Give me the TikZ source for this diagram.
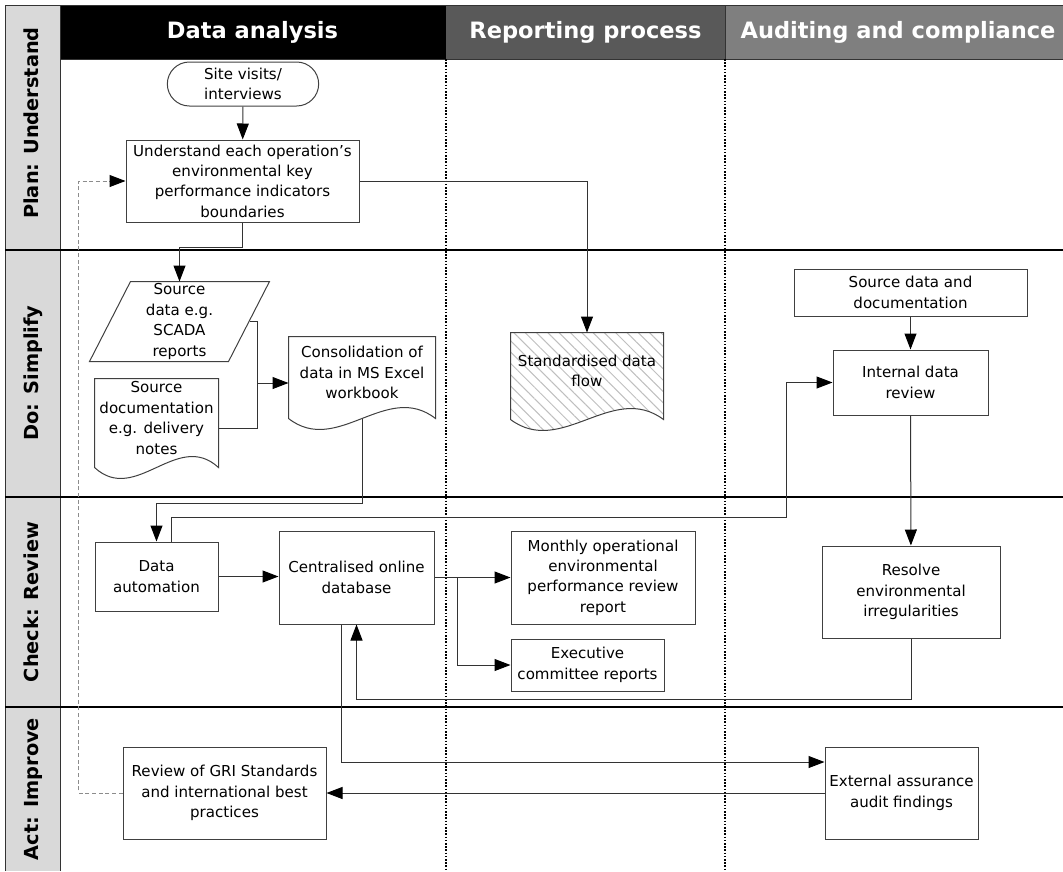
\documentclass[tikz,border=0pt]{standalone}
\usepackage{fontspec}
\setmainfont{DejaVu Sans}
\usepackage{tikz}
\usepackage{xcolor}
\usetikzlibrary{calc,arrows.meta,shapes.misc,patterns.meta,backgrounds}

\definecolor{lanegray}{HTML}{D9D9D9}
\definecolor{headdark}{HTML}{595959}
\definecolor{headmid}{HTML}{7F7F7F}
\definecolor{edgegray}{HTML}{404040}

% document symbol: straight top and sides, wavy bottom
\newcommand{\docoutline}[2][]{%
  \draw[edgegray,line width=0.75pt,#1] (#2.north west) -- (#2.north east)
    -- ($(#2.south east)+(0,10)$)
    .. controls ($(#2.south east)!1/3!(#2.south west)+(0,-28)$)
    and ($(#2.south east)!2/3!(#2.south west)+(0,48)$) .. ($(#2.south west)+(0,10)$)
    -- cycle;}
% data symbol (parallelogram)
\newcommand{\dataoutline}[1]{%
  \draw[edgegray,line width=0.75pt] ($(#1.north west)+(41,0)$) -- (#1.north east)
    -- ($(#1.south east)+(-41,0)$) -- (#1.south west) -- cycle;}

\begin{document}
\begin{tikzpicture}[x=0.75pt,y=-0.75pt,line width=0.75pt,
boxsize/.style 2 args = {minimum width=#1*0.75pt, minimum height=#2*0.75pt},
box/.style = {draw=edgegray, align=center, inner sep=1pt, font=\fontsize{11.3}{15.3}\selectfont},
doc node/.style = {align=center, inner sep=0pt, font=\fontsize{11.3}{15.3}\selectfont},
term node/.style = {box, rounded rectangle},
lane label/.style = {rotate=90, anchor=base, font=\bfseries\fontsize{14.5}{17}\selectfont},
head label/.style = {anchor=base, text=white, font=\bfseries\fontsize{16.9}{20}\selectfont},
flow/.style = {draw=black!80, -{Triangle[length=12pt,width=9pt,color=black]}},
link/.style = {draw=black!80},
feedback/.style = {flow, draw=black!45, dash pattern=on 3pt off 2pt},
lane sep/.style = {draw=black, line width=0.9pt, dash pattern=on 1.2pt off 1.2pt}]
\useasboundingbox (0,0) rectangle (1063,871);

% swimlane frame
\fill[lanegray] (5,5) rectangle (60,871);
\fill[black] (60,5) rectangle (446,59);
\fill[headdark] (446,5) rectangle (725,59);
\fill[headmid] (725,5) rectangle (1063,59);
\draw[black!80] (5,871) -- (5,5) -- (1063,5);
\draw[black!80] (60,5) -- (60,871);
\draw[black!80] (60,59) -- (1063,59);
\draw[black!80] (725,5) -- (725,59);
\foreach \y in {250,497,707}
  \draw[line width=1.5pt] (5,\y) -- (1063,\y);
\foreach \x in {446,725}
  \draw[lane sep] (\x,59) -- (\x,871);

\node[head label] (hdata) at (252.5,38) {Data analysis};
\node[head label] (hrep) at (585.5,38) {Reporting process};
\node[head label] (haud) at (898,38) {Auditing and compliance};
\node[lane label] (lplan) at (38,123) {Plan: Understand};
\node[lane label] (ldo) at (38,373) {Do: Simplify};
\node[lane label] (lcheck) at (38,602) {Check: Review};
\node[lane label] (lact) at (38,789) {Act: Improve};

% steps
\node[term node, boxsize={154}{44}] (site) at (243,84) {Site visits/\\interviews};
\node[box, boxsize={233}{82}] (und) at (242.5,181) {Understand each operation’s\\environmental key\\performance indicators\\boundaries};
\node[doc node, boxsize={179}{79}] (scada) at (179.5,321.5) {Source\\data e.g.\\SCADA\\reports};
\node[doc node, boxsize={123}{78}] (srcdoc) at (156.5,418) {Source\\documentation\\e.g. delivery\\notes};
\node[doc node, boxsize={146}{71}] (cons) at (362,372.5) {Consolidation of\\data in MS Excel\\workbook};
\node[doc node, boxsize={152}{76}] (std) at (587,371) {Standardised data\\flow};
\node[box, boxsize={233}{47}] (srcdata) at (910.5,292.5) {Source data and\\documentation};
\node[box, boxsize={155}{65}] (int) at (910.5,382.5) {Internal data\\review};
\node[box, boxsize={123}{69}] (da) at (156.5,576.5) {Data\\automation};
\node[box, boxsize={155}{93}] (cen) at (356.5,577.5) {Centralised online\\database};
\node[box, boxsize={184}{93}] (mon) at (603,577.5) {Monthly operational\\environmental\\performance review\\report};
\node[box, boxsize={153}{52}] (exe) at (587.5,665) {Executive\\committee reports};
\node[box, boxsize={178}{92}] (res) at (911,592) {Resolve\\environmental\\irregularities};
\node[box, boxsize={203}{92}] (gri) at (224.5,793) {Review of GRI Standards\\and international best\\practices};
\node[box, boxsize={153}{92}] (ext) at (901.5,793) {External assurance\\audit findings};

\begin{scope}[on background layer]
\docoutline{srcdoc}
\docoutline{cons}
\docoutline[pattern={Lines[angle=-45,distance=6pt,line width=0.75pt]},pattern color=black!25]{std}
\dataoutline{scada}
\end{scope}

\coordinate (mrg) at (257,383);

% connectors
\draw[flow] (site) -- (und);
\draw[flow] (und.south) -- ++(0,25) -| (scada.center |- scada.north);
\draw[flow] (und.east) -| (std.north);
\draw[link] ($(scada.east)+(-20,0)$) -| ($(srcdoc.east)+(39,10)$) -- ($(srcdoc.east)+(0,10)$);
\draw[flow] (mrg) -- (cons.west |- mrg);
\draw[flow] ($(cons.south)+(0,10)$) -- ++(0,85) -| (da.north);
\draw[flow] ($(da.north)+(15,0)$) -- ++(0,-24) -| ($(int.west)+(-46,0)$) -- (int.west);
\draw[flow] (srcdata) -- (int);
\draw[flow] (int) -- (res);
\draw[flow] (da.east) -- (da.east -| cen.west);
\draw[flow] (cen.east) -- (mon.west);
\draw[flow] ($(cen.east)+(23,0)$) |- (exe.west);
\draw[flow] (res.south) -- ++(0,61) -| (cen.south);
\draw[flow] ($(cen.south)+(-15,0)$) |- ($(ext.west)+(0,-31)$);
\draw[flow] (ext.west) -- (gri.east);
\draw[feedback] (gri.west) -- ++(-44,0) |- (und.west);
\end{tikzpicture}
\end{document}
